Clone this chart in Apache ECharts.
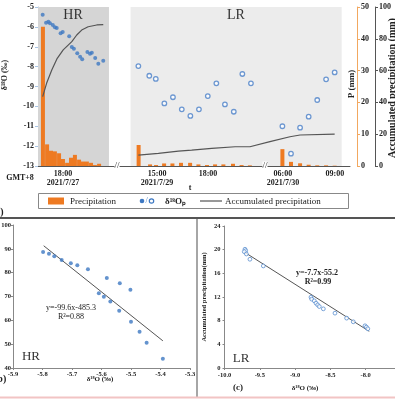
<!DOCTYPE html>
<html><head><meta charset="utf-8">
<script src="https://cdn.jsdelivr.net/npm/echarts@6/dist/echarts.min.js"></script>
<style>html,body{margin:0;padding:0;background:#fff}#c{width:395px;height:400px}</style>
</head><body><div id="c"></div>
<script>
// ---------- (a) time series, x in axis units (time position) ----------
const hrT = [1.8,3.1,4.0,4.6,5.7,6.5,7.2,8.7,9.5,12.0,13.0,13.8,15.1,16.2,17.0,19.0,20.0,20.7,22.0,23.2,25.1];
const hrD18O = [-5.39,-5.79,-5.74,-5.82,-5.91,-6.02,-6.06,-6.32,-6.26,-6.47,-7.01,-7.10,-7.33,-7.50,-7.63,-7.26,-7.35,-7.30,-7.57,-7.85,-7.70];
const hrBarT = [1.9,3.5,5.0,6.5,8.1,9.6,11.2,12.7,14.2,15.8,17.3,18.8,20.4,21.9,23.5];
const hrP = [43.8,6.8,4.8,4.6,4.0,2.2,1.0,2.6,3.5,2.0,1.4,1.4,1.0,0.3,0.7];
const hrAccT = [1.8,3.3,5.3,7.4,9.7,13.0,14.9,16.8,19.3,22.6,25.1];
const hrAcc = [43.6,52,60.4,67.7,73,78.2,82.4,85.5,87.6,88.7,88.9];

const lrT = [38.6,42.8,45.3,48.6,51.9,55.3,58.6,61.9,65.3,68.6,71.9,75.3,78.6,81.9,94.0,97.3,100.8,104.1,107.4,110.8,114.1];
const lrD18O = [-7.97,-8.46,-8.62,-9.85,-9.54,-10.15,-10.48,-10.15,-9.48,-8.84,-9.90,-10.27,-8.37,-8.84,-11.0,-12.38,-11.07,-10.52,-9.68,-8.64,-8.29];
const lrBarT = [38.7,43.1,45.4,48.5,51.7,55.0,58.5,61.7,65.0,68.1,71.3,75.0,78.3,81.5,94.0,97.3,100.8,104.1,107.4,110.8,114.1];
const lrP = [6.6,0.5,0.3,0.8,0.8,1.0,1.0,0.5,0.3,0.5,0.5,0.7,0.3,0.2,5.3,1.3,0.85,0.4,0.2,0.2,0.1];
const lrAccT = [38.6,46.3,54.0,59.1,66.8,75.8,81.5,89.2,96.9,100.8,114.1];
const lrAcc = [6.9,8.0,9.4,10.0,11.1,12.1,12.1,15.3,18.4,19.5,20.1];

const tickPos = [9.6,45.8,65.4,94.2,114.2];
const tickLabels = ['18:00\n2021/7/27','15:00\n2021/7/29','18:00','06:00\n2021/7/30','09:00'];
const hrSpan = [0,27.3];
const lrSpan = [35.6,116.8];
const breakPos = [30.4,87.3];

// ---------- (b) HR scatter ----------
const bX = [-5.798,-5.778,-5.760,-5.735,-5.704,-5.682,-5.646,-5.582,-5.538,-5.502,-5.609,-5.592,-5.570,-5.540,-5.500,-5.471,-5.447,-5.392];
const bY = [88.7,87.9,86.9,85.3,84.0,83.1,81.4,77.8,75.6,72.8,71.4,69.9,67.9,64.0,59.4,55.2,50.6,43.9];
const bFitX = [-5.796,-5.392];
const bFitY = [91.3,51.4];

// ---------- (c) LR scatter ----------
const cX = [-9.71,-9.70,-9.72,-9.69,-9.64,-9.45,-8.775,-8.765,-8.728,-8.704,-8.68,-8.657,-8.60,-8.435,-8.27,-8.176,-8.01,-7.99,-7.97];
const cY = [20.07,19.83,19.66,19.27,18.38,17.25,11.97,11.64,11.35,10.96,10.67,10.39,10.0,9.27,8.43,7.81,7.13,6.91,6.63];
const cFitX = [-9.72,-7.95];
const cFitY = [19.6,6.2];

const zip = (a,b) => a.map((v,i)=>[v,b[i]]);
const F = 'Liberation Serif';
const ORANGE = '#ee7a22';
const BLUE = '#3d78c2';
const lab = (sz, extra) => Object.assign({fontFamily:F, fontWeight:'bold', fontSize:sz, color:'#222'}, extra||{});

const chart = echarts.init(document.getElementById('c'), null, {renderer:'canvas'});
const option = {
  animation:false,
  backgroundColor:'#fff',
  grid:[
    {left:38, top:7, width:312, height:159, containLabel:false, outerBoundsMode:'none'},
    {left:13, top:225, width:177, height:143, containLabel:false, outerBoundsMode:'none'},
    {left:224.5, top:226, width:176.5, height:142, containLabel:false, outerBoundsMode:'none'}
  ],
  xAxis:[
    {gridIndex:0, type:'value', min:0, max:120, splitLine:{show:false},
     axisLine:{lineStyle:{color:'#555', width:1}},
     axisTick:{show:true, inside:true, length:3, customValues:tickPos, lineStyle:{color:'#555'}},
     axisLabel:{customValues:tickPos, margin:3, lineHeight:9, ...lab(8),
       formatter:(v)=>{const i=tickPos.findIndex(p=>Math.abs(p-v)<1e-6); return i>=0?tickLabels[i]:'';}}},
    {gridIndex:1, type:'value', min:-5.9, max:-5.3, interval:0.1, splitLine:{show:false},
     axisLine:{lineStyle:{color:'#888'}}, axisTick:{length:2, lineStyle:{color:'#888'}},
     axisLabel:{margin:3, ...lab(6.5), formatter:v=>v.toFixed(1)}},
    {gridIndex:2, type:'value', min:-10, max:-7.5, interval:0.5, splitLine:{show:false},
     axisLine:{lineStyle:{color:'#888'}}, axisTick:{length:2, lineStyle:{color:'#888'}},
     axisLabel:{margin:4, ...lab(6.5), formatter:v=>v.toFixed(1)}}
  ],
  yAxis:[
    {gridIndex:0, type:'value', min:-13, max:-5, interval:1, splitLine:{show:false},
     axisLine:{show:true, lineStyle:{color:'#a8c4e4'}}, axisTick:{show:true, length:3, lineStyle:{color:'#a8c4e4'}},
     axisLabel:{margin:4, ...lab(8)}},
    {gridIndex:0, type:'value', position:'right', offset:7, min:0, max:50, interval:10, splitLine:{show:false},
     axisLine:{show:true, lineStyle:{color:'#f2a860'}}, axisTick:{show:true, length:3, lineStyle:{color:'#f2a860'}},
     axisLabel:{margin:4, ...lab(8)}},
    {gridIndex:0, type:'value', position:'right', offset:25, min:0, max:100, interval:20, splitLine:{show:false},
     axisLine:{show:true, lineStyle:{color:'#555'}}, axisTick:{show:true, length:3, lineStyle:{color:'#555'}},
     axisLabel:{margin:4, ...lab(8)}},
    {gridIndex:1, type:'value', min:40, max:100, interval:10, splitLine:{show:false},
     axisLine:{show:true, lineStyle:{color:'#888'}}, axisTick:{show:true, length:2, lineStyle:{color:'#888'}},
     axisLabel:{margin:2, ...lab(6.5)}},
    {gridIndex:2, type:'value', min:0, max:24, interval:4, splitLine:{show:false},
     axisLine:{show:true, lineStyle:{color:'#888'}}, axisTick:{show:true, length:2, lineStyle:{color:'#888'}},
     axisLabel:{margin:4, ...lab(6.5)},
     name:'Accumulated precipitation(mm)', nameLocation:'middle', nameGap:17, nameRotate:90,
     nameTextStyle:lab(6.5)}
  ],
  series:[
    {type:'line', xAxisIndex:0, yAxisIndex:0, data:[], z:0, silent:true,
     markArea:{silent:true, data:[
       [{xAxis:hrSpan[0], itemStyle:{color:'#d5d5d5'}},{xAxis:hrSpan[1]}],
       [{xAxis:lrSpan[0], itemStyle:{color:'#ececec'}},{xAxis:lrSpan[1]}]
     ]}},
    {type:'bar', xAxisIndex:0, yAxisIndex:1, barWidth:4, z:2,
     itemStyle:{color:ORANGE}, data:zip(hrBarT,hrP).concat(zip(lrBarT,lrP))},
    {type:'line', xAxisIndex:0, yAxisIndex:2, showSymbol:false, z:3,
     lineStyle:{color:'#555', width:1.2}, data:zip(hrAccT,hrAcc)},
    {type:'line', xAxisIndex:0, yAxisIndex:2, showSymbol:false, z:3,
     lineStyle:{color:'#555', width:1.2}, data:zip(lrAccT,lrAcc)},
    {type:'scatter', xAxisIndex:0, yAxisIndex:0, symbolSize:4, z:4,
     itemStyle:{color:BLUE}, data:zip(hrT,hrD18O)},
    {type:'scatter', xAxisIndex:0, yAxisIndex:0, symbol:'circle', symbolSize:4.5, z:4,
     itemStyle:{color:'#fff', borderColor:'#4a80c8', borderWidth:1.3}, data:zip(lrT,lrD18O)},
    {type:'scatter', xAxisIndex:1, yAxisIndex:3, symbolSize:4, z:4,
     itemStyle:{color:BLUE}, data:zip(bX,bY)},
    {type:'line', xAxisIndex:1, yAxisIndex:3, showSymbol:false, z:3,
     lineStyle:{color:'#555', width:1}, data:zip(bFitX,bFitY)},
    {type:'scatter', xAxisIndex:2, yAxisIndex:4, symbol:'circle', symbolSize:3.8, z:4,
     itemStyle:{color:'#fff', borderColor:'#5a8ed0', borderWidth:1}, data:zip(cX,cY)},
    {type:'line', xAxisIndex:2, yAxisIndex:4, showSymbol:false, z:3,
     lineStyle:{color:'#555', width:1}, data:zip(cFitX,cFitY)}
  ]
};
chart.setOption(option);

const axisY = chart.convertToPixel({xAxisIndex:0, yAxisIndex:0}, [0,-13])[1];
const breaks = breakPos.map(b => {
  const px = chart.convertToPixel({xAxisIndex:0}, b);
  return {type:'text', x:px, y:axisY, z:10,
    style:{text:'//', fontFamily:F, fontSize:9, fill:'#333', align:'center', verticalAlign:'middle', backgroundColor:'#fff'}};
});
const T = (x,y,text,style,extra) => Object.assign({type:'text', x, y, z:10,
  style:Object.assign({text, fontFamily:F, fontSize:8, fill:'#222', align:'center', verticalAlign:'middle'}, style||{})}, extra||{});

chart.setOption({graphic:[
  ...breaks,
  T(73,15,'HR',{fontSize:14, fill:'#333'}),
  T(236,15,'LR',{fontSize:14, fill:'#333'}),
  T(4.5,75,'δ¹⁸O (‰)',{fontWeight:'bold', fontSize:8},{rotation:Math.PI/2}),
  T(352,84,'P (mm)',{fontWeight:'bold', fontSize:9},{rotation:Math.PI/2}),
  T(392,88,'Accumulated precipitation (mm)',{fontWeight:'bold', fontSize:10},{rotation:Math.PI/2}),
  T(20,178,'GMT+8',{fontWeight:'bold', fontSize:8}),
  T(190,188,'t',{fontWeight:'bold', fontSize:8}),
  // legend
  {type:'rect', z:10, shape:{x:38.5, y:193.5, width:310, height:15}, style:{fill:'#fff', stroke:'#888', lineWidth:1}},
  {type:'rect', z:11, shape:{x:48, y:197.5, width:16, height:7}, style:{fill:ORANGE}},
  T(70,201.5,'Precipitation',{fontSize:9, align:'left'},{z:11}),
  {type:'circle', z:11, shape:{cx:142, cy:201, r:2.3}, style:{fill:BLUE}},
  T(146.5,201,'/',{fontSize:8, fill:BLUE},{z:11}),
  {type:'circle', z:11, shape:{cx:151.5, cy:201, r:2.2}, style:{fill:'#fff', stroke:BLUE, lineWidth:1.2}},
  T(165,201.5,'δ¹⁸Oₚ',{fontSize:9, fontWeight:'bold', align:'left'},{z:11}),
  {type:'line', z:11, shape:{x1:200, y1:201, x2:222, y2:201}, style:{stroke:'#333', lineWidth:1}},
  T(225,201.5,'Accumulated precipitation',{fontSize:9, align:'left'},{z:11}),
  T(-8,212,'(a)',{fontSize:10, fontWeight:'bold', align:'left'}),
  // panel frames
  {type:'line', z:9, shape:{x1:0, y1:218, x2:395, y2:218}, style:{stroke:'#555', lineWidth:2}},
  {type:'line', z:9, shape:{x1:197, y1:219, x2:197, y2:397}, style:{stroke:'#888', lineWidth:1.5}},
  {type:'line', z:9, shape:{x1:0, y1:397.5, x2:395, y2:397.5}, style:{stroke:'#f2c4c4', lineWidth:2}},
  // (b) annotations
  T(71,308,'y=-99.6x-485.3',{fontSize:8}),
  T(71,317,'R²=0.88',{fontSize:8}),
  T(31,357,'HR',{fontSize:13, fill:'#333'}),
  T(100,379,'δ¹⁸O (‰)',{fontSize:7, fontWeight:'bold'}),
  T(-6,379,'(b)',{fontSize:10, fontWeight:'bold', align:'left'}),
  // (c) annotations
  T(317,273,'y=-7.7x-55.2',{fontSize:8, fontWeight:'bold'}),
  T(318,282,'R²=0.99',{fontSize:8, fontWeight:'bold'}),
  T(241,359,'LR',{fontSize:13, fill:'#333'}),
  T(305,388,'δ¹⁸O (‰)',{fontSize:7, fontWeight:'bold'}),
  T(238,388,'(c)',{fontSize:9, fontWeight:'bold'})
]});
</script>
</body></html>
